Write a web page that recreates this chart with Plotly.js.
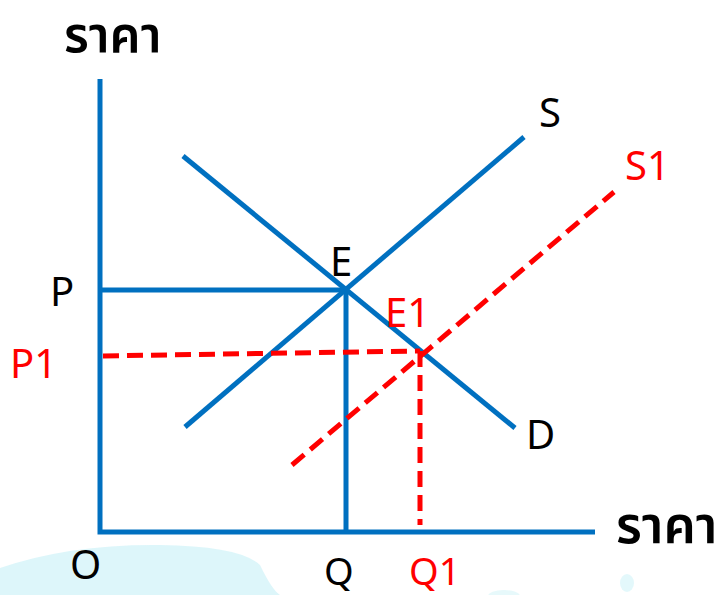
<!DOCTYPE html>
<html>
<head>
<meta charset="utf-8">
<script src="https://cdn.plot.ly/plotly-3.0.1.min.js"></script>
<style>
  html, body { margin: 0; padding: 0; background: #ffffff; }
  #chart { width: 724px; height: 595px; }
</style>
</head>
<body>
<div id="chart"></div>
<script>
// Diagram coordinates: origin O at (0,0), units measured from the axes
const axisX = [0, 0, 495];          // y-axis top -> origin -> x-axis end
const axisY = [453, 0, 0];

const supplyX = [85, 424];          // S
const supplyY = [105, 395];
const demandX = [83, 415];          // D
const demandY = [376, 104];
const supply1X = [192, 514];        // S1 (shifted supply)
const supply1Y = [67, 340];

const eqE = [246, 242];             // E  (Q, P)
const eqE1 = [320, 181];            // E1 (Q1, P1)
const p1StartY = 176;               // P1 dashed line starts at the y-axis
const q1EndY = 7;                   // Q1 dashed line ends just above the x-axis

const labelText = ['ราคา', 'ราคา', 'S', 'S1', 'E', 'E1', 'D', 'P', 'P1', 'O', 'Q', 'Q1'];
const labelX    = [12, 566, 450, 547, 241, 307, 440, -38, -67, -15, 239, 334];
const labelY    = [499, 9, 421, 368, 272, 221, 99, 242, 170, -31, -38, -38];
const labelColor = ['black', 'black', 'black', 'red', 'black', 'red', 'black', 'black', 'red', 'black', 'black', 'red'];
const labelSize  = [49, 51, 40, 40, 40, 40, 40, 40, 40, 40, 38, 38];

const BLUE = 'rgb(0,112,192)';
const RED = 'rgb(255,0,0)';
const W = 5;

const traces = [
  {x: axisX, y: axisY, mode: 'lines', line: {color: BLUE, width: W}},
  {x: supplyX, y: supplyY, mode: 'lines', line: {color: BLUE, width: W}},
  {x: demandX, y: demandY, mode: 'lines', line: {color: BLUE, width: W}},
  {x: [0, eqE[0], eqE[0]], y: [eqE[1], eqE[1], 0], mode: 'lines', line: {color: BLUE, width: W}},
  {x: supply1X, y: supply1Y, mode: 'lines', line: {color: RED, width: W, dash: '16px,8px'}},
  {x: [3, eqE1[0]], y: [p1StartY, eqE1[1]], mode: 'lines', line: {color: RED, width: W, dash: '16px,8px'}},
  {x: [eqE1[0], eqE1[0]], y: [eqE1[1], q1EndY], mode: 'lines', line: {color: RED, width: W, dash: '16px,8px'}}
].map(t => Object.assign(t, {hoverinfo: 'skip', showlegend: false}));

const FONT = '"Noto Sans", "Noto Sans Thai", "DejaVu Sans", sans-serif';

const layout = {
  width: 724, height: 595,
  margin: {l: 0, r: 0, t: 0, b: 0, pad: 0},
  paper_bgcolor: '#ffffff', plot_bgcolor: 'rgba(0,0,0,0)',
  showlegend: false,
  xaxis: {range: [-100, 624], visible: false, fixedrange: true},
  yaxis: {range: [-63, 532], visible: false, fixedrange: true},
  annotations: labelText.map((t, i) => ({
    text: t,
    x: labelX[i], y: labelY[i], xref: 'x', yref: 'y',
    showarrow: false, xanchor: 'center', yanchor: 'middle', borderpad: 0,
    font: {family: FONT, size: labelSize[i], color: labelColor[i], weight: i < 2 ? 600 : 400}
  })),
  shapes: [
    {type: 'path', layer: 'below', xref: 'x', yref: 'y', line: {width: 0},
     fillcolor: 'rgba(215,245,249,0.85)',
     path: 'M -100 -36 Q -30 -12 60 -13 Q 140 -14 160 -33 Q 172 -58 180 -63 L -100 -63 Z'},
    {type: 'circle', layer: 'below', xref: 'x', yref: 'y', line: {width: 0},
     fillcolor: 'rgba(215,245,249,0.7)', x0: 520, x1: 534, y0: -60, y1: -42},
    {type: 'circle', layer: 'below', xref: 'x', yref: 'y', line: {width: 0},
     fillcolor: 'rgba(215,245,249,0.6)', x0: 388, x1: 420, y0: -70, y1: -58}
  ]
};

Plotly.newPlot('chart', traces, layout, {staticPlot: true, displayModeBar: false});
</script>
</body>
</html>
